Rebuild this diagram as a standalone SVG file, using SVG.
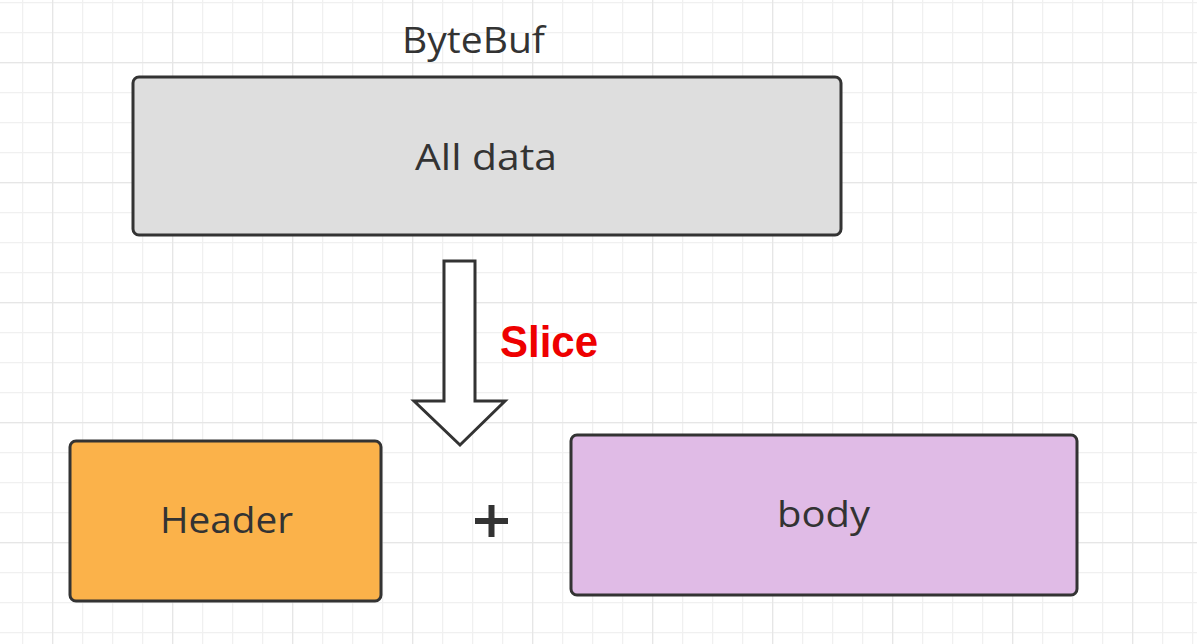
<svg xmlns="http://www.w3.org/2000/svg" width="1197" height="644" viewBox="0 0 1197 644">
  <defs>
    <pattern id="minor" patternUnits="userSpaceOnUse" x="22" y="2" width="30" height="30">
      <path d="M0 0.5 H30 M0.5 0 V30" fill="none" stroke="#f0f0f0" stroke-width="1.5"/>
    </pattern>
    <pattern id="major" patternUnits="userSpaceOnUse" x="52" y="62" width="120" height="120">
      <path d="M0 0.5 H120 M0.5 0 V120" fill="none" stroke="#e6e6e6" stroke-width="1.5"/>
    </pattern>
  </defs>
  <style>
    .box { stroke: #333333; stroke-width: 3; }
    .lbl { font-family: "Open Sans", "Liberation Sans", Arial, sans-serif; fill: #333333; text-anchor: middle; }
  </style>
  <rect x="0" y="0" width="1197" height="644" fill="#ffffff"/>
  <rect x="0" y="0" width="1197" height="644" fill="url(#minor)"/>
  <rect x="0" y="0" width="1197" height="644" fill="url(#major)"/>

  <g id="bytebuf-title">
    <text class="lbl" x="473.5" y="53" font-size="37" textLength="143" lengthAdjust="spacingAndGlyphs">ByteBuf</text>
  </g>

  <g id="all-data">
    <rect class="box" x="133" y="77" width="708" height="158" rx="6" fill="#dedede"/>
    <text class="lbl" x="486" y="170" font-size="37" textLength="142" lengthAdjust="spacingAndGlyphs">All data</text>
  </g>

  <g id="connectors">
    <polygon points="444,261 475,261 475,401 505,401 460,445 414,401 444,401" fill="#ffffff" stroke="#333333" stroke-width="3" stroke-linejoin="miter"/>
    <text x="549" y="357" font-family="'Liberation Sans', Arial, sans-serif" font-weight="bold" font-size="44" fill="#ee0000" text-anchor="middle" textLength="98" lengthAdjust="spacingAndGlyphs">Slice</text>
  </g>

  <g id="header">
    <rect class="box" x="70" y="441" width="311" height="160" rx="6" fill="#fbb24a"/>
    <text class="lbl" x="226.5" y="533" font-size="36" textLength="133" lengthAdjust="spacingAndGlyphs">Header</text>
  </g>

  <g id="plus">
    <path d="M491.5 505 V537 M475 521 H508" stroke="#333333" stroke-width="6"/>
  </g>

  <g id="body">
    <rect class="box" x="571" y="435" width="506" height="160" rx="6" fill="#e0bbe6"/>
    <text class="lbl" x="823.5" y="527" font-size="36" textLength="93" lengthAdjust="spacingAndGlyphs">body</text>
  </g>
</svg>
